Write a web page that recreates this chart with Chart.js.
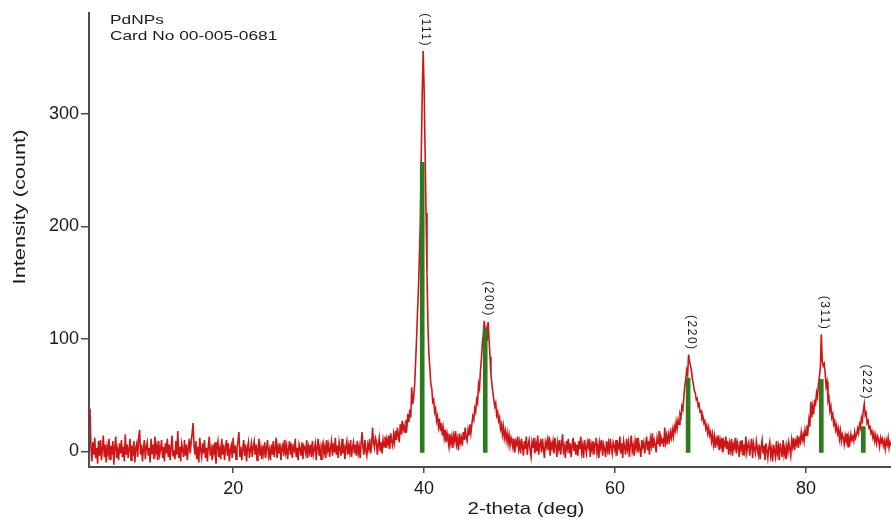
<!DOCTYPE html>
<html>
<head>
<meta charset="utf-8">
<script src="https://cdn.jsdelivr.net/npm/chart.js@4"></script>
<style>
  html, body { margin: 0; padding: 0; background: #ffffff; }
  #xrd { display: block; }
</style>
</head>
<body>
<canvas id="xrd" width="891" height="519"></canvas>
<script>
// Scan grid (deg 2-theta) and measured counts, one row per degree
const startDeg = 5.0;
const stepDeg = 0.1;
const intensity = [
  38, 4, -9, 8, -3, 12, -6, 3, -11, 9,
  -4, 10, -8, 2, 14, -5, 6, -10, 4, -2,
  11, -7, 5, -3, 9, -12, 3, 13, -6, 1,
  -8, 7, -2, 10, -5, 4, -9, 15, -3, 6,
  -6, 2, 11, -8, 5, -4, 9, -10, 3, 7,
  -5, 12, 19, -3, 6, -9, 2, 10, -7, 4,
  8, -4, 3, -10, 11, -2, 6, -7, 13, -1,
  5, -8, 9, -3, 2, 10, -6, 4, -9, 7,
  -2, 11, -5, 6, -8, 3, 14, -4, 1, -7,
  9, -3, 18, -6, 4, -9, 7, 2, -5, 10,
  -4, 6, -8, 3, 11, -2, 8, 16, 25, 5,
  -3, 9, -7, 4, -10, 12, 1, -5, 7, -2,
  10, -6, 3, -9, 5, 13, -4, 2, -8, 6,
  -1, 8, -11, 4, 9, -5, 2, -7, 11, -3,
  6, -8, 3, 10, -4, 7, -9, 1, 5, -6,
  12, -2, 5, -7, 3, 9, 17, -5, 4, -8,
  2, 10, -4, 6, -9, 3, 8, -6, 1, 7,
  -5, 4, 9, -3, 6, -8, 2, 11, -4, 3,
  -7, 5, -2, 8, -6, 3, 10, -4, 1, -8,
  6, -3, 9, -5, 2, 12, -6, 4, -2, 7,
  -8, 3, 6, -4, 10, -1, 5, -7, 2, 9,
  -3, 7, -6, 4, 1, 11, -5, 3, -8, 6,
  2, -4, 8, -7, 5, 3, -2, 10, -6, 4,
  -1, 6, -5, 9, -3, 2, 7, -8, 4, 11,
  -4, 3, -7, 5, 8, -2, 4, -6, 10, 1,
  6, -5, 3, 9, -4, 7, -1, 12, -3, 5,
  -6, 8, 2, -4, 11, -2, 6, -7, 4, 9,
  -3, 5, -1, 10, -5, 3, 8, -2, 6, -4,
  9, -2, 4, -6, 7, 17, 3, -3, 10, 1,
  -4, 6, 2, 11, -2, 5, 21, 8, 3, 12,
  9, -3, 6, 12, 0, 8, -2, 10, 4, 13,
  3, 11, 6, 14, 2, 16, 9, 5, 15, 8,
  18, 10, 21, 14, 8, 24, 15, 27, 19, 23,
  17, 28, 22, 33, 26, 37, 30, 57, 42, 48,
  58, 77, 98, 122, 143, 172, 203, 262, 318, 356,
  322, 268, 212, 158, 112, 86, 74, 60, 56, 44,
  46, 35, 38, 27, 31, 22, 29, 18, 25, 14,
  21, 12, 19, 8, 16, 10, 4, 15, 7, 13,
  3, 14, 9, 18, 6, 11, 1, 16, 8, 12,
  5, 17, 10, 21, 12, 9, 19, 14, 24, 16,
  24, 31, 28, 38, 35, 46, 43, 60, 56, 72,
  82, 96, 104, 116, 103, 108, 98, 115, 100, 84,
  68, 60, 52, 46, 40, 43, 32, 35, 27, 30,
  20, 24, 15, 22, 12, 18, 10, 16, 7, 14,
  5, 12, 8, 3, 11, -1, 9, 6, 13, 2,
  8, -2, 11, 4, -4, 9, 2, 13, -3, 6,
  10, 1, -5, 8, 3, 12, -2, 7, 0, 14,
  -3, 6, 9, -1, 11, 2, -6, 8, 4, 10,
  1, 13, -4, 7, 3, 9, -2, 12, 5, -5,
  8, 2, 10, -3, 6, 15, 0, 4, -6, 9,
  3, 11, -2, 7, -5, 5, 12, 1, 8, -3,
  6, -4, 9, 2, 13, -1, 5, -6, 10, 3,
  -2, 8, 4, 11, -5, 6, 1, 9, -3, 7,
  12, -1, 5, -6, 8, 3, 10, -4, 6, 2,
  -5, 9, 1, 7, -3, 11, 4, -2, 8, 5,
  0, 10, -4, 6, 3, 13, -2, 7, -6, 9,
  4, -3, 11, 2, 8, -5, 6, 14, 0, 5,
  -4, 9, 3, 12, -1, 7, 2, -5, 10, 4,
  8, -2, 6, 13, 1, 9, -3, 11, 5, 16,
  3, 10, 6, -1, 12, 7, 18, 4, 13, 8,
  10, 4, 21, 8, 14, 6, 15, 10, 17, 12,
  19, 13, 22, 18, 26, 20, 28, 24, 33, 30,
  40, 37, 48, 58, 64, 72, 68, 86, 80, 76,
  72, 64, 60, 54, 52, 46, 47, 40, 42, 35,
  36, 29, 31, 25, 27, 20, 23, 16, 21, 14,
  17, 9, 15, 6, 13, 3, 11, 7, 14, 1,
  10, 4, 12, -1, 8, 5, 13, 2, 9, -3,
  7, 1, 11, -4, 6, 3, 12, -2, 8, 4,
  -5, 9, 2, 10, -3, 6, 0, 13, -1, 5,
  8, -4, 4, 11, -6, 7, 2, -2, 9, 3,
  -3, 6, -7, 4, 10, -2, 5, -8, 7, 1,
  -6, 3, 8, -4, 2, -9, 6, 0, -5, 9,
  -2, 4, -8, 7, 1, -5, 10, -3, 3, -7,
  5, -1, 8, 2, -4, 10, 4, 12, 1, 9,
  6, 14, 3, 11, 8, 17, 10, 15, 9, 19,
  14, 23, 18, 28, 22, 44, 30, 40, 33, 44,
  42, 52, 48, 60, 66, 74, 104, 80, 76, 78,
  70, 58, 62, 45, 48, 36, 40, 30, 33, 24,
  27, 19, 23, 16, 20, 11, 18, 9, 15, 12,
  6, 14, 9, 16, 4, 12, 8, 15, 10, 13,
  9, 17, 12, 15, 20, 16, 24, 21, 30, 27,
  36, 42, 32, 34, 25, 27, 20, 23, 16, 18,
  12, 16, 9, 14, 7, 13, 10, 4, 12, 8,
  11, 5, 9, 2, 10, 6, 12, 3, 8, 5
];

// Reference card 00-005-0681 stick pattern
const cardPositions = [39.8, 46.4, 67.65, 81.6, 86.0];
const cardIntensity = [257, 109, 65, 64, 22];
const cardBase = -1;
const hklLabels = ["(111)", "(200)", "(220)", "(311)", "(222)"];

// Axis ticks
const xTicks = [20, 40, 60, 80];
const yTicks = [0, 100, 200, 300];

const axisColor = "#4d4d4d";
const textColor = "#1a1a1a";

const scanPoints = intensity.map((v, i) => ({ x: +(startDeg + i * stepDeg).toFixed(1), y: v }));
const stickPoints = cardPositions.map((p, i) => ({ x: p, y: [cardBase, cardIntensity[i]] }));

function drawStretched(ctx, text, x, y, font, sx, align) {
  ctx.save();
  ctx.font = font;
  ctx.textBaseline = "alphabetic";
  const w = ctx.measureText(text).width * sx;
  let left = x;
  if (align === "center") left = x - w / 2;
  if (align === "right") left = x - w;
  ctx.translate(left, y);
  ctx.scale(sx, 1);
  ctx.textAlign = "left";
  ctx.fillText(text, 0, 0);
  ctx.restore();
}

const xrdLabels = {
  id: "xrdLabels",
  afterDatasetsDraw(chart) {
    const { ctx, scales } = chart;
    const xs = scales.x;
    const ys = scales.y;
    ctx.save();
    ctx.fillStyle = textColor;

    // hkl labels just above each peak top
    ctx.font = "12px 'Liberation Sans', Arial, sans-serif";
    ctx.letterSpacing = "1.5px";
    cardPositions.forEach((pos, i) => {
      let top = cardIntensity[i];
      scanPoints.forEach((p) => {
        if (Math.abs(p.x - pos) <= 0.4 && p.y > top) top = p.y;
      });
      const px = xs.getPixelForValue(pos) + 3;
      const py = ys.getPixelForValue(top) - 4;
      ctx.save();
      ctx.translate(px, py);
      ctx.rotate(Math.PI / 2);
      ctx.textAlign = "right";
      ctx.textBaseline = "middle";
      ctx.fillText(hklLabels[i], 0, 0);
      ctx.restore();
    });
    ctx.letterSpacing = "0px";

    // sample / card annotation
    const noteFont = "13px 'Liberation Sans', Arial, sans-serif";
    drawStretched(ctx, "PdNPs", 110, 23.5, noteFont, 1.33, "left");
    drawStretched(ctx, "Card No 00-005-0681", 110, 39.5, noteFont, 1.33, "left");

    // axis titles
    const titleFont = "17px 'Liberation Sans', Arial, sans-serif";
    drawStretched(ctx, "2-theta (deg)", 526, 514, titleFont, 1.2, "center");
    ctx.save();
    ctx.translate(25, 207);
    ctx.rotate(-Math.PI / 2);
    drawStretched(ctx, "Intensity (count)", 0, 0, titleFont, 1.28, "center");
    ctx.restore();

    ctx.restore();
  }
};

new Chart(document.getElementById("xrd"), {
  type: "line",
  data: {
    datasets: [
      {
        type: "bar",
        label: "Card 00-005-0681",
        data: stickPoints,
        backgroundColor: "#2e7b1f",
        borderWidth: 0,
        barThickness: 4,
        order: 0
      },
      {
        type: "line",
        label: "PdNPs",
        data: scanPoints,
        borderColor: "#cc1618",
        borderWidth: 1.6,
        pointRadius: 0,
        tension: 0,
        fill: false,
        order: 1
      }
    ]
  },
  options: {
    responsive: false,
    animation: false,
    events: [],
    layout: { padding: { top: 6, right: 0, left: 0, bottom: 0 } },
    plugins: {
      legend: { display: false },
      tooltip: { enabled: false }
    },
    scales: {
      x: {
        type: "linear",
        min: 4.9,
        max: 88.9,
        offset: false,
        afterBuildTicks: (s) => { s.ticks = xTicks.map((v) => ({ value: v })); },
        afterFit: (s) => { s.height = 52; },
        ticks: {
          color: textColor,
          font: { family: "'Liberation Sans', Arial, sans-serif", size: 18 },
          padding: 5,
          maxRotation: 0,
          autoSkip: false
        },
        grid: { display: true, offset: false, drawOnChartArea: false, tickLength: 6, color: axisColor, lineWidth: 1.5 },
        border: { display: true, color: axisColor, width: 2 }
      },
      y: {
        type: "linear",
        min: -14,
        max: 390,
        afterBuildTicks: (s) => { s.ticks = yTicks.map((v) => ({ value: v })); },
        afterFit: (s) => { s.width = 89; },
        ticks: {
          color: textColor,
          font: { family: "'Liberation Sans', Arial, sans-serif", size: 18 },
          padding: 2,
          autoSkip: false
        },
        grid: { display: true, drawOnChartArea: false, tickLength: 8, color: axisColor, lineWidth: 1.5 },
        border: { display: true, color: axisColor, width: 2 }
      }
    }
  },
  plugins: [xrdLabels]
});
</script>
</body>
</html>
